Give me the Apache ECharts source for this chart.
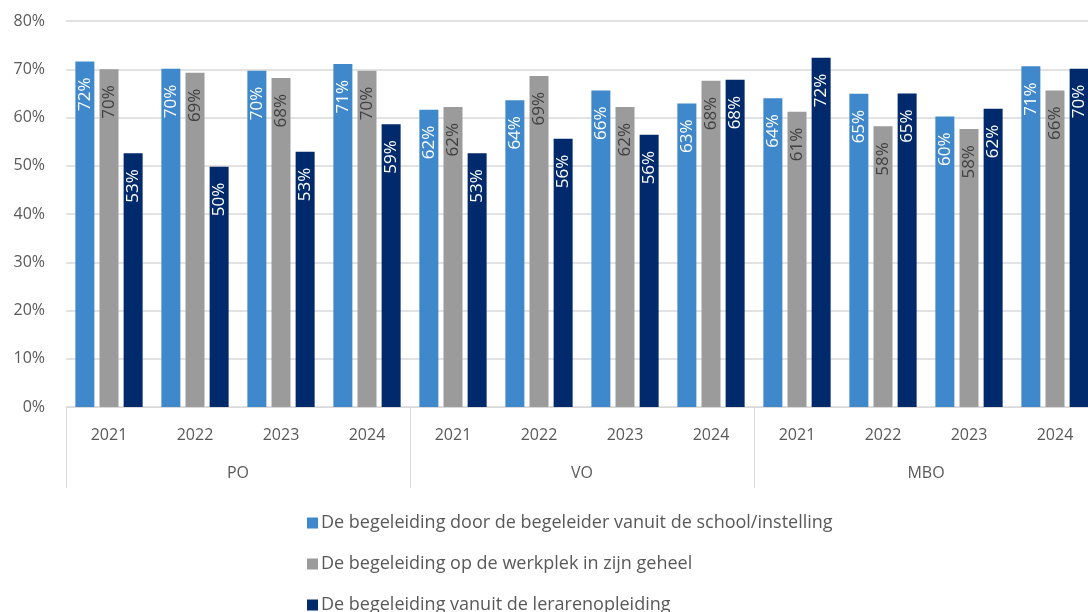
<!DOCTYPE html>
<html>
<head>
<meta charset="utf-8">
<script src="https://cdn.jsdelivr.net/npm/echarts@6/dist/echarts.min.js"></script>
<style>
  html, body { margin: 0; padding: 0; background: #fff; }
  #chart { width: 1088px; height: 612px; }
</style>
</head>
<body>
<div id="chart"></div>
<script>
const years = ["2021", "2022", "2023", "2024", "2021", "2022", "2023", "2024", "2021", "2022", "2023", "2024"];
const sectors = ["PO", "VO", "MBO"];
const yTicks = [0, 10, 20, 30, 40, 50, 60, 70, 80];

const seriesNames = [
  "De begeleiding door de begeleider vanuit de school/instelling",
  "De begeleiding op de werkplek in zijn geheel",
  "De begeleiding vanuit de lerarenopleiding"
];
const schoolValues = [71.6, 70.1, 69.7, 71.1, 61.6, 63.6, 65.6, 62.9, 64.0, 64.9, 60.2, 70.6];
const werkplekValues = [70.0, 69.3, 68.2, 69.7, 62.2, 68.6, 62.2, 67.6, 61.2, 58.2, 57.6, 65.6];
const opleidingValues = [52.6, 49.8, 52.9, 58.6, 52.6, 55.6, 56.4, 67.8, 72.4, 65.0, 61.8, 70.1];

const colors = ["#3e88cb", "#9b9b9b", "#002a6c"];
const labelColors = ["#ffffff", "#404040", "#ffffff"];
const font = "'Open Sans', 'Noto Sans', sans-serif";
const textGrey = "#595959";
const lineGrey = "#d9d9d9";

const chart = echarts.init(document.getElementById("chart"));

const makeSeries = (name, data, i) => ({
  name,
  type: "bar",
  xAxisIndex: 0,
  data,
  barWidth: 19,
  barGap: "27%",
  itemStyle: { color: colors[i] },
  label: {
    show: true,
    position: "insideTop",
    distance: 16,
    rotate: 90,
    align: "right",
    verticalAlign: "middle",
    color: labelColors[i],
    fontSize: 17,
    fontFamily: font,
    formatter: (p) => Math.round(p.value) + "%"
  },
  emphasis: { disabled: true }
});

// één legenda per reeks, zodat ze onder elkaar blijven staan
const legends = seriesNames.map((name, i) => ({
  orient: "vertical",
  left: 302,
  top: 509 + i * 41,
  itemWidth: 11,
  itemHeight: 11,
  itemGap: 4,
  icon: "rect",
  textStyle: { color: textGrey, fontSize: 18, fontFamily: font, padding: [0, 0, 0, -2] },
  data: [name]
}));

chart.setOption({
  animation: false,
  grid: { left: 66, width: 1032, top: 21, height: 386, containLabel: false, outerBoundsMode: "none" },
  legend: legends,
  xAxis: [
    {
      type: "category",
      data: years,
      position: "bottom",
      axisLine: { show: true, lineStyle: { color: lineGrey, width: 1 } },
      axisTick: { show: false },
      axisLabel: { color: textGrey, fontSize: 16, fontFamily: font, margin: 20, interval: 0 }
    },
    {
      type: "category",
      data: sectors,
      position: "bottom",
      offset: 0,
      axisLine: { show: false },
      axisTick: { show: true, length: 81, interval: 0, lineStyle: { color: lineGrey, width: 1 } },
      axisLabel: { color: textGrey, fontSize: 16, fontFamily: font, margin: 58, interval: 0 },
      splitLine: { show: false }
    }
  ],
  yAxis: {
    type: "value",
    min: yTicks[0],
    max: yTicks[yTicks.length - 1],
    interval: 10,
    axisLine: { show: false },
    axisTick: { show: false },
    axisLabel: { color: textGrey, fontSize: 16, fontFamily: font, margin: 21, formatter: "{value}%" },
    splitLine: { lineStyle: { color: lineGrey, width: 1.5 } }
  },
  series: [
    makeSeries(seriesNames[0], schoolValues, 0),
    makeSeries(seriesNames[1], werkplekValues, 1),
    makeSeries(seriesNames[2], opleidingValues, 2)
  ]
});
</script>
</body>
</html>
